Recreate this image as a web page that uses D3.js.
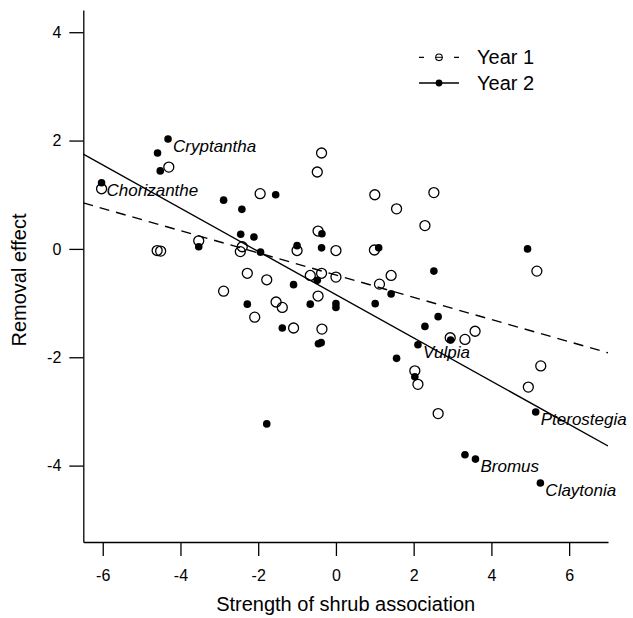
<!DOCTYPE html>
<html>
<head>
<meta charset="utf-8">
<script src="https://cdn.jsdelivr.net/npm/d3@7"></script>
<style>
  html, body { margin: 0; padding: 0; background: #fff; }
  svg { display: block; font-family: "Liberation Sans", Arial, sans-serif; }
</style>
</head>
<body>
<svg id="chart" width="633" height="618"></svg>
<script>
// ---- Data ----
const year1X = [-4.30, -6.03, -1.95, -3.53, -2.41, -2.46, -4.60, -4.51, -2.28, -1.78, -2.89, -1.54,
  -0.37, -0.48, 1.00, -0.46, -1.00, 0.00, 0.99, -0.66, -0.37, 0.00, -0.46, 1.12, 2.52, 1.56, 2.29,
  1.42, 5.17, -1.38, -2.09, -1.09, -0.36, 3.58, 2.94, 3.32, 2.03, 2.11, 5.27, 4.95, 2.63];
const year1Y = [1.51, 1.11, 1.02, 0.15, 0.04, -0.05, -0.03, -0.04, -0.45, -0.57, -0.78, -0.98,
  1.77, 1.42, 1.00, 0.33, -0.03, -0.03, -0.02, -0.49, -0.45, -0.52, -0.87, -0.65, 1.04, 0.74, 0.43,
  -0.49, -0.41, -1.08, -1.26, -1.46, -1.48, -1.52, -1.64, -1.67, -2.25, -2.50, -2.16, -2.55, -3.04];

const year2X = [-4.32, -4.59, -4.52, -6.03, -1.55, -2.89, -2.42, -2.45, -2.11, -3.53, -1.94, -0.36,
  -1.00, -0.37, 1.10, -0.48, -1.09, 4.93, 2.52, 1.42, -2.28, -0.66, -1.38, -0.45, -0.38, -1.78,
  0.00, 0.00, 1.01, 2.63, 2.29, 2.95, 2.11, 1.56, 2.03, 5.14, 3.32, 3.59, 5.26];
const year2Y = [2.03, 1.77, 1.44, 1.22, 1.00, 0.90, 0.73, 0.27, 0.22, 0.04, -0.06, 0.28,
  0.06, 0.02, 0.02, -0.58, -0.66, 0.00, -0.41, -0.83, -1.02, -1.02, -1.46, -1.75, -1.73, -3.23,
  -1.01, -1.08, -1.01, -1.25, -1.43, -1.68, -1.77, -2.02, -2.36, -3.01, -3.80, -3.88, -4.32];

const speciesNames = ["Cryptantha", "Chorizanthe", "Vulpia", "Pterostegia", "Bromus", "Claytonia"];
const speciesX = [-4.32, -6.03, 2.11, 5.14, 3.59, 5.26];
const speciesY = [2.03, 1.22, -1.77, -3.01, -3.88, -4.32];

const seriesNames = ["Year 1", "Year 2"];
const fitIntercept = [-0.483, -0.844];
const fitSlope = [-0.205, -0.399];

const xTicks = [-6, -4, -2, 0, 2, 4, 6];
const yTicks = [-4, -2, 0, 2, 4];
const xTitle = "Strength of shrub association";
const yTitle = "Removal effect";

// ---- Chart ----
(function () {
const svg = d3.select("#chart");
const pL = 83.3, pR = 608, pT = 10, pB = 542;
const x = d3.scaleLinear().domain([-6.5, 7]).range([pL, pR]);
const y = d3.scaleLinear().domain([-5.41, 4.41]).range([pB, pT]);
const fmt = d => String(d);

const xAxis = svg.append("g").attr("transform", `translate(0,${pB})`)
  .call(d3.axisBottom(x).tickValues(xTicks).tickSize(14).tickSizeOuter(0).tickPadding(14).tickFormat(fmt));
const yAxis = svg.append("g").attr("transform", `translate(${pL},0)`)
  .call(d3.axisLeft(y).tickValues(yTicks).tickSize(14).tickSizeOuter(0).tickPadding(8).tickFormat(fmt));
[xAxis, yAxis].forEach(g => {
  g.select(".domain").attr("stroke", "#000").attr("stroke-width", 1.3);
  g.selectAll(".tick line").attr("stroke", "#000").attr("stroke-width", 1.3);
  g.selectAll(".tick text").attr("fill", "#000").style("font-size", "16px")
    .style("font-family", "'Liberation Sans', Arial, sans-serif");
});

// Fit lines
svg.append("clipPath").attr("id", "plotclip").append("rect")
  .attr("x", pL).attr("y", pT).attr("width", pR - pL).attr("height", pB - pT);
const xd = x.domain();
seriesNames.forEach((s, i) => {
  svg.append("line")
    .attr("clip-path", "url(#plotclip)")
    .attr("x1", x(xd[0])).attr("y1", y(fitIntercept[i] + fitSlope[i] * xd[0]))
    .attr("x2", x(xd[1])).attr("y2", y(fitIntercept[i] + fitSlope[i] * xd[1]))
    .attr("stroke", "#000").attr("stroke-width", 1.4)
    .attr("stroke-dasharray", i === 0 ? "10,7" : null);
});

// Points
svg.append("g").selectAll("circle").data(year1X.map((v, i) => [v, year1Y[i]])).join("circle")
  .attr("cx", d => x(d[0])).attr("cy", d => y(d[1])).attr("r", 5)
  .attr("fill", "none").attr("stroke", "#000").attr("stroke-width", 1.3);
svg.append("g").selectAll("circle").data(year2X.map((v, i) => [v, year2Y[i]])).join("circle")
  .attr("cx", d => x(d[0])).attr("cy", d => y(d[1])).attr("r", 3.8)
  .attr("fill", "#000");

// Species labels
svg.append("g").selectAll("text").data(speciesNames).join("text")
  .attr("x", (d, i) => x(speciesX[i]) + 5)
  .attr("y", (d, i) => y(speciesY[i]) + 13.3)
  .style("font-size", "17px").style("font-style", "italic")
  .attr("fill", "#000").text(d => d);

// Axis titles
svg.append("text").attr("x", (pL + pR) / 2).attr("y", 611)
  .attr("text-anchor", "middle").style("font-size", "20px").text(xTitle);
svg.append("text").attr("transform", `translate(26,${(pT + pB) / 2 + 4}) rotate(-90)`)
  .attr("text-anchor", "middle").style("font-size", "20px").text(yTitle);

// Legend
const leg = svg.append("g");
seriesNames.forEach((s, i) => {
  const ly = 57.3 + i * 25.7;
  leg.append("line").attr("x1", 419).attr("x2", 459).attr("y1", ly).attr("y2", ly)
    .attr("stroke", "#000").attr("stroke-width", 1.3)
    .attr("stroke-dasharray", i === 0 ? "5,30,5" : null);
  if (i === 0) {
    leg.append("circle").attr("cx", 439).attr("cy", ly).attr("r", 3.3)
      .attr("fill", "none").attr("stroke", "#000").attr("stroke-width", 1.1);
    leg.append("line").attr("x1", 435.7).attr("x2", 442.3).attr("y1", ly).attr("y2", ly)
      .attr("stroke", "#000").attr("stroke-width", 1);
  } else {
    leg.append("circle").attr("cx", 439).attr("cy", ly).attr("r", 3.4).attr("fill", "#000");
  }
  leg.append("text").attr("x", 477).attr("y", ly + 7).style("font-size", "20px")
    .attr("fill", "#000").text(s);
});
})();
</script>
</body>
</html>
